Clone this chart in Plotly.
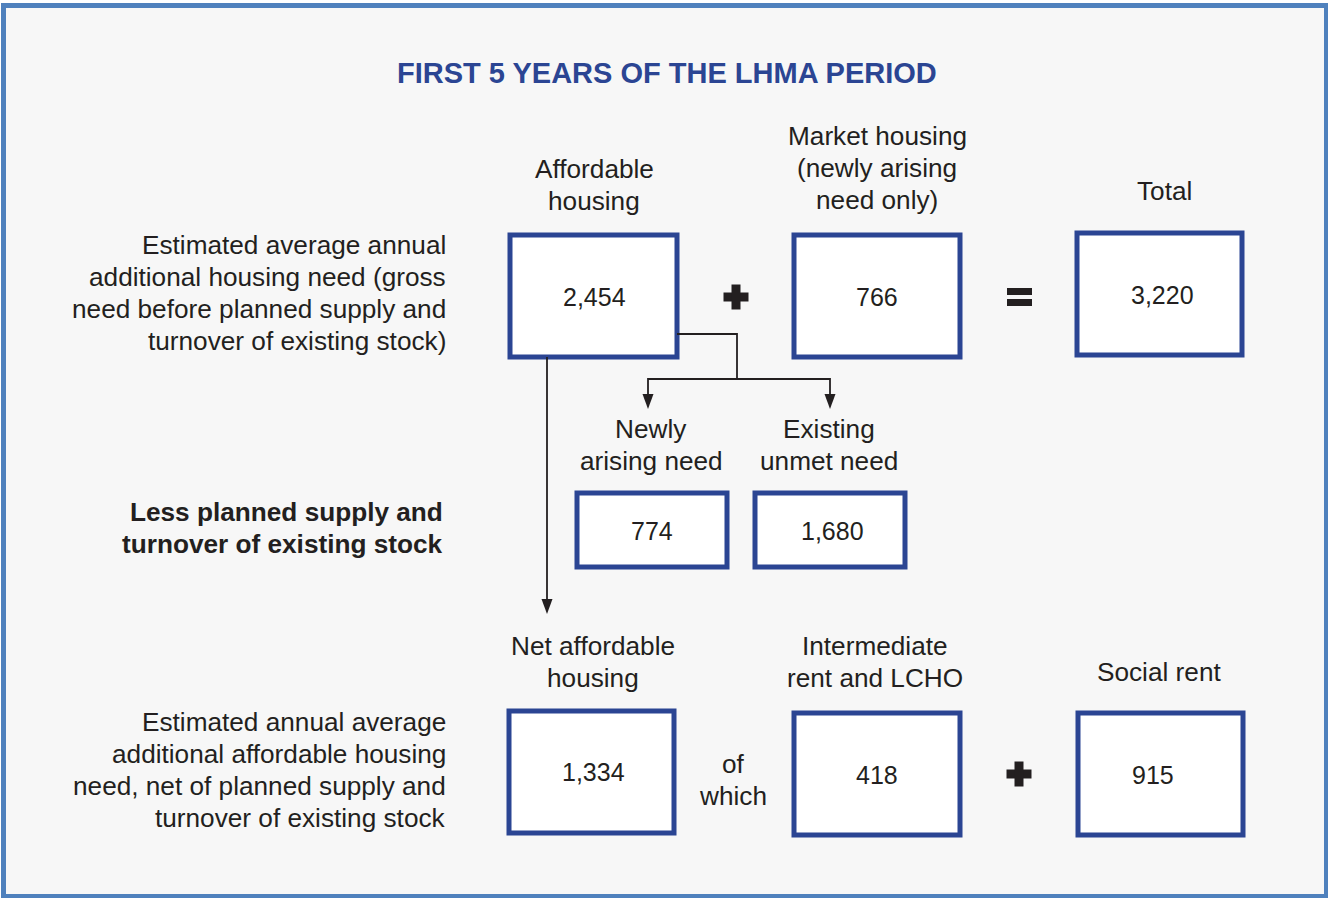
import plotly.graph_objects as go

# ---------------- data ----------------
title_text = "FIRST 5 YEARS OF THE LHMA PERIOD"

box_values = ["2,454", "766", "3,220", "774", "1,680", "1,334", "418", "915"]
box_headers = [
    ["Affordable", "housing"],
    ["Market housing", "(newly arising", "need only)"],
    ["Total"],
    ["Newly", "arising need"],
    ["Existing", "unmet need"],
    ["Net affordable", "housing"],
    ["Intermediate", "rent and LCHO"],
    ["Social rent"],
]
row_labels = [
    ["Estimated average annual", "additional housing need (gross",
     "need before planned supply and", "turnover of existing stock)"],
    ["Less planned supply and", "turnover of existing stock"],
    ["Estimated annual average", "additional affordable housing",
     "need, net of planned supply and", "turnover of existing stock"],
]
connector_text = ["of", "which"]

# ---------------- layout geometry (pixels) ----------------
box_rects = [
    (510, 235, 677, 357),
    (794, 235, 960, 357),
    (1077, 233, 1242, 355),
    (577, 493, 727, 567),
    (755, 493, 905, 567),
    (509, 711, 674, 833),
    (794, 713, 960, 835),
    (1078, 713, 1243, 835),
]
value_pos = [(594, 297), (877, 297), (1162, 295), (652, 531), (832, 531),
             (593, 772), (877, 775), (1153, 775)]
header_pos = [(594, 185), (877, 168), (1164, 191), (651, 445), (829, 445),
              (593, 662), (875, 662), (1159, 672)]
row_label_pos = [(448, 293), (445, 528), (448, 770)]
row_label_bold = [False, True, False]
connector_pos = (733, 780)

BLUE = "#2B4593"
DARK = "#231f20"
FONT = "Arial, Liberation Sans, sans-serif"
LABEL_SIZE = 26.2
LINE_GAP = 32

fig = go.Figure()
shapes = []

# outer frame
shapes.append(dict(type="rect", x0=3.5, y0=5.5, x1=1326.5, y1=896.5,
                   line=dict(color="#4F81BD", width=5), fillcolor="#F7F7F7", layer="below"))

for (x0, y0, x1, y1) in box_rects:
    shapes.append(dict(type="rect", x0=x0, y0=y0, x1=x1, y1=y1,
                       line=dict(color=BLUE, width=5), fillcolor="white"))

def plus(cx, cy, size=25, t=9):
    return [
        dict(type="rect", x0=cx - size / 2, x1=cx + size / 2, y0=cy - t / 2, y1=cy + t / 2,
             line=dict(width=0), fillcolor=DARK),
        dict(type="rect", x0=cx - t / 2, x1=cx + t / 2, y0=cy - size / 2, y1=cy + size / 2,
             line=dict(width=0), fillcolor=DARK),
    ]

shapes += plus(736, 297)
shapes += plus(1019, 774)
shapes.append(dict(type="rect", x0=1007, x1=1032, y0=288, y1=295, line=dict(width=0), fillcolor=DARK))
shapes.append(dict(type="rect", x0=1007, x1=1032, y0=299, y1=306, line=dict(width=0), fillcolor=DARK))

lw = 1.8
shapes.append(dict(type="path", path="M 677 334 L 737 334 L 737 379",
                   line=dict(color=DARK, width=lw)))
shapes.append(dict(type="path", path="M 648 396 L 648 379 L 830 379 L 830 396",
                   line=dict(color=DARK, width=lw)))
shapes.append(dict(type="line", x0=547, y0=357, x1=547, y1=600,
                   line=dict(color=DARK, width=lw)))

def arrowhead(x, ytip, w=11, h=15):
    return dict(type="path",
                path=f"M {x - w / 2} {ytip - h} L {x + w / 2} {ytip - h} L {x} {ytip} Z",
                line=dict(width=0), fillcolor=DARK)

shapes.append(arrowhead(648, 409))
shapes.append(arrowhead(830, 409))
shapes.append(arrowhead(547, 614))

annotations = []
annotations.append(dict(x=667, y=73, text="<b>" + title_text + "</b>", showarrow=False,
                        font=dict(family=FONT, size=29, color=BLUE),
                        xanchor="center", yanchor="middle"))

for v, (x, y) in zip(box_values, value_pos):
    annotations.append(dict(x=x, y=y, text=v, showarrow=False,
                            font=dict(family=FONT, size=25, color=DARK),
                            xanchor="center", yanchor="middle"))

def add_lines(lines, x, yc, xanchor, bold=False):
    n = len(lines)
    for i, ln in enumerate(lines):
        y = yc + (i - (n - 1) / 2) * LINE_GAP
        txt = f"<b>{ln}</b>" if bold else ln
        annotations.append(dict(x=x, y=y, text=txt, showarrow=False,
                                font=dict(family=FONT, size=LABEL_SIZE, color=DARK),
                                xanchor=xanchor, yanchor="middle"))

for h, (x, y) in zip(box_headers, header_pos):
    add_lines(h, x, y, "center")

for t, (x, y), b in zip(row_labels, row_label_pos, row_label_bold):
    add_lines(t, x, y, "right", bold=b)

add_lines(connector_text, connector_pos[0], connector_pos[1], "center")

fig.update_layout(
    width=1328, height=898,
    margin=dict(l=0, r=0, t=0, b=0),
    paper_bgcolor="white", plot_bgcolor="white",
    xaxis=dict(range=[0, 1328], visible=False, fixedrange=True),
    yaxis=dict(range=[898, 0], visible=False, fixedrange=True),
    shapes=shapes, annotations=annotations, showlegend=False,
)

fig.write_html("out.html", include_plotlyjs=True, config={"displayModeBar": False},
               post_script="document.body.style.margin='0';document.body.style.overflow='hidden';")
